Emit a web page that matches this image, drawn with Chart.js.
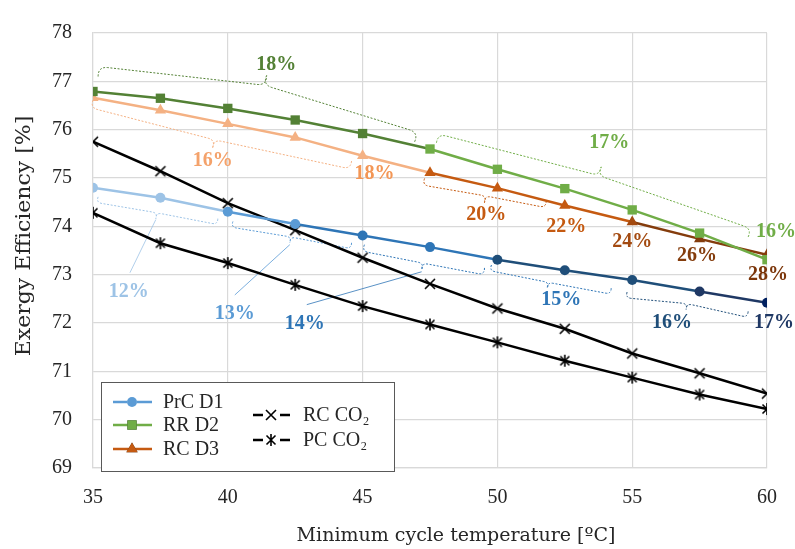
<!DOCTYPE html>
<html>
<head>
<meta charset="utf-8">
<script src="https://cdn.jsdelivr.net/npm/chart.js@4/dist/chart.umd.min.js"></script>
<style>
  html, body { margin: 0; padding: 0; background: #ffffff; }
  #wrap { width: 795px; height: 549px; }
</style>
</head>
<body>
<div id="wrap"><canvas id="chart" width="795" height="549"></canvas></div>
<script>
// Minimum cycle temperature (ºC)
const temps = [35, 37.5, 40, 42.5, 45, 47.5, 50, 52.5, 55, 57.5, 60];

// Exergy efficiency (%) for each cycle
const prcD1 = [74.80, 74.59, 74.30, 74.05, 73.81, 73.57, 73.31, 73.09, 72.89, 72.65, 72.42];
const rrD2  = [76.79, 76.65, 76.44, 76.20, 75.92, 75.60, 75.18, 74.78, 74.34, 73.86, 73.31];
const rcD3  = [76.66, 76.40, 76.12, 75.84, 75.46, 75.11, 74.79, 74.43, 74.09, 73.74, 73.41];
const rcCO2 = [75.75, 75.14, 74.48, 73.92, 73.35, 72.81, 72.30, 71.88, 71.37, 70.96, 70.54];
const pcCO2 = [74.28, 73.65, 73.24, 72.79, 72.35, 71.97, 71.60, 71.22, 70.87, 70.52, 70.22];

const seriesNames = ['PrC D1', 'RR D2', 'RC D3', 'RC CO\u2082', 'PC CO\u2082'];

// Axis ranges and ticks
const xTicks = [35, 40, 45, 50, 55, 60];
const yTicks = [69, 70, 71, 72, 73, 74, 75, 76, 77, 78];

// Percentage notes: text and anchor (temperature, efficiency)
const noteText = ['18%', '17%', '16%', '16%', '18%', '20%', '22%', '24%', '26%', '28%', '12%', '13%', '14%', '15%', '16%', '17%'];
const noteX    = [41.8, 54.15, 60.33, 39.44, 45.44, 49.59, 52.55, 55.0, 57.4, 60.04, 36.33, 40.26, 42.85, 52.37, 56.48, 60.26];
const noteY    = [77.34, 75.73, 73.88, 75.35, 75.08, 74.24, 73.98, 73.67, 73.39, 72.99, 72.65, 72.20, 71.98, 72.48, 72.00, 72.00];

// Braces: start, tip and end (temperature, efficiency)
const braceStart = [[35.19, 77.10], [47.74, 75.73], [35.00, 76.61], [47.30, 74.99], [35.19, 74.61], [40.19, 74.10], [45.07, 73.62], [49.78, 73.20], [54.81, 72.64]];
const braceTip   = [[41.44, 77.12], [53.85, 75.23], [39.44, 75.63], [49.52, 74.49], [37.33, 74.16], [42.30, 73.66], [47.19, 73.10], [51.85, 72.72], [57.00, 72.28]];
const braceEnd   = [[46.93, 75.75], [59.30, 73.78], [44.59, 75.35], [51.81, 74.53], [39.63, 74.16], [44.59, 73.66], [49.52, 73.14], [54.22, 72.72], [59.30, 72.24]];

// Leader lines from brace tips to their notes
const leaderFrom = [[37.33, 74.14], [42.30, 73.62], [47.19, 73.06]];
const leaderTo   = [[36.37, 73.04], [40.26, 72.58], [42.93, 72.38]];

// ---- styling ----
const C = {
  blue1: '#9DC3E6', blue2: '#5B9BD5', blue3: '#2E75B6', blue4: '#1F4E79', blue5: '#1F3864', blue6: '#002060',
  green1: '#538135', green2: '#70AD47',
  orange1: '#F4B183', orange2: '#C55A11', orange3: '#A34A10', orange4: '#843C0C',
  grid: '#D9D9D9', text: '#262626'
};

const bluePts  = [C.blue1, C.blue1, C.blue2, C.blue2, C.blue3, C.blue3, C.blue4, C.blue4, C.blue4, C.blue5, C.blue6];
const blueSeg  = [C.blue1, C.blue1, C.blue2, C.blue3, C.blue3, C.blue3, C.blue4, C.blue4, C.blue4, C.blue5];
const greenPts = [C.green1, C.green1, C.green1, C.green1, C.green1, C.green2, C.green2, C.green2, C.green2, C.green2, C.green2];
const greenSeg = [C.green1, C.green1, C.green1, C.green1, C.green1, C.green2, C.green2, C.green2, C.green2, C.green2];
const orangePts = [C.orange1, C.orange1, C.orange1, C.orange1, C.orange1, C.orange2, C.orange2, C.orange2, C.orange3, C.orange4, C.orange4];
const orangeSeg = [C.orange1, C.orange1, C.orange1, C.orange1, C.orange1, C.orange2, C.orange2, C.orange2, C.orange4, C.orange4];

const noteColors = [C.green1, C.green2, C.green2, '#F4A26B', '#F39655', C.orange2, C.orange2, C.orange3, C.orange4, '#7B3509',
                    C.blue1, C.blue2, C.blue3, C.blue3, C.blue4, C.blue5];
const braceColors = [C.green1, C.green2, C.orange1, C.orange2, C.blue1, C.blue2, C.blue3, C.blue3, C.blue4];
const braceSide = [-1, -1, 1, 1, 1, 1, 1, 1, 1];
const braceDepth = [10, 9, 8, 7, 6, 6, 7, 6, 6];
const leaderColors = [C.blue1, C.blue2, C.blue3];

const SERIF = '"Liberation Serif", "Times New Roman", serif';
const TITLE_FONT = '"DejaVu Serif", serif';

// Marker images for the CO2 series
function markerCanvas(size, draw) {
  const c = document.createElement('canvas');
  c.width = size; c.height = size;
  const g = c.getContext('2d');
  draw(g, size);
  return c;
}
const crossMark = markerCanvas(14, (g, s) => {
  g.strokeStyle = '#000'; g.lineWidth = 1.6; g.lineCap = 'butt';
  g.beginPath();
  g.moveTo(2, 2); g.lineTo(s - 2, s - 2);
  g.moveTo(s - 2, 2); g.lineTo(2, s - 2);
  g.stroke();
});
const starMark = markerCanvas(14, (g, s) => {
  g.strokeStyle = '#000'; g.lineWidth = 1.6;
  g.beginPath();
  g.moveTo(2.5, 2.5); g.lineTo(s - 2.5, s - 2.5);
  g.moveTo(s - 2.5, 2.5); g.lineTo(2.5, s - 2.5);
  g.moveTo(s / 2, 1); g.lineTo(s / 2, s - 1);
  g.stroke();
});

const toXY = arr => arr.map((v, i) => ({ x: temps[i], y: v }));

const datasets = [
  { label: seriesNames[0], data: toXY(prcD1), borderColor: C.blue2, borderWidth: 2.5,
    pointStyle: 'circle', pointRadius: 5, pointBackgroundColor: bluePts, pointBorderColor: bluePts, pointBorderWidth: 0,
    segment: { borderColor: ctx => blueSeg[ctx.p0DataIndex] } },
  { label: seriesNames[1], data: toXY(rrD2), borderColor: C.green2, borderWidth: 2.5,
    pointStyle: 'rect', pointRadius: 6.6, pointBackgroundColor: greenPts, pointBorderColor: greenPts, pointBorderWidth: 0,
    segment: { borderColor: ctx => greenSeg[ctx.p0DataIndex] } },
  { label: seriesNames[2], data: toXY(rcD3), borderColor: C.orange2, borderWidth: 2.5,
    pointStyle: 'triangle', pointRadius: 6.5, pointBackgroundColor: orangePts, pointBorderColor: orangePts, pointBorderWidth: 0,
    segment: { borderColor: ctx => orangeSeg[ctx.p0DataIndex] } },
  { label: seriesNames[3], data: toXY(rcCO2), borderColor: '#000', borderWidth: 2.5,
    pointStyle: crossMark, pointRadius: 7 },
  { label: seriesNames[4], data: toXY(pcCO2), borderColor: '#000', borderWidth: 2.5,
    pointStyle: starMark, pointRadius: 7 }
];

function drawBrace(ctx, A, T, B, side, r) {
  function half(P, Q) {
    const dx = Q.x - P.x, dy = Q.y - P.y;
    const len = Math.hypot(dx, dy);
    let nx = -dy / len, ny = dx / len;
    if (Math.sign(ny) !== side) { nx = -nx; ny = -ny; }
    const sP = { x: P.x + nx * r, y: P.y + ny * r };
    const sQ = { x: Q.x - nx * r, y: Q.y - ny * r };
    const ux = sQ.x - sP.x, uy = sQ.y - sP.y;
    const ul = Math.hypot(ux, uy);
    const ex = ux / ul * r, ey = uy / ul * r;
    ctx.moveTo(P.x, P.y);
    ctx.quadraticCurveTo(sP.x, sP.y, sP.x + ex, sP.y + ey);
    ctx.lineTo(sQ.x - ex, sQ.y - ey);
    ctx.quadraticCurveTo(sQ.x, sQ.y, Q.x, Q.y);
  }
  ctx.beginPath();
  half(A, T);
  half(B, T);
  ctx.stroke();
}

const notesPlugin = {
  id: 'notes',
  beforeDatasetsDraw(chart) {
    const { ctx, scales: { x, y } } = chart;
    const px = p => ({ x: x.getPixelForValue(p[0]), y: y.getPixelForValue(p[1]) });
    ctx.save();
    ctx.lineWidth = 1;
    ctx.setLineDash([2, 1.6]);
    braceStart.forEach((s, i) => {
      ctx.strokeStyle = braceColors[i];
      drawBrace(ctx, px(s), px(braceTip[i]), px(braceEnd[i]), braceSide[i], braceDepth[i]);
    });
    ctx.setLineDash([]);
    ctx.lineWidth = 0.8;
    leaderFrom.forEach((s, i) => {
      const a = px(s), b = px(leaderTo[i]);
      ctx.strokeStyle = leaderColors[i];
      ctx.beginPath(); ctx.moveTo(a.x, a.y); ctx.lineTo(b.x, b.y); ctx.stroke();
    });
    ctx.restore();
  },
  afterDraw(chart) {
    const { ctx, chartArea: ca, scales: { x, y } } = chart;
    ctx.save();
    // percentage notes
    ctx.font = 'bold 20px ' + SERIF;
    ctx.textAlign = 'center';
    ctx.textBaseline = 'middle';
    noteText.forEach((t, i) => {
      ctx.fillStyle = noteColors[i];
      ctx.fillText(t, x.getPixelForValue(noteX[i]), y.getPixelForValue(noteY[i]));
    });

    // axis titles
    ctx.fillStyle = C.text;
    ctx.font = '19px ' + TITLE_FONT;
    ctx.textBaseline = 'middle';
    ctx.textAlign = 'center';
    ctx.fillText('Minimum cycle temperature [\u00BAC]', 456, 536);
    ctx.save();
    ctx.translate(25, 236);
    ctx.rotate(-Math.PI / 2);
    ctx.scale(1.1, 1);
    ctx.font = '20px ' + TITLE_FONT;
    ctx.fillText('Exergy Efficiency [%]', 0, 0);
    ctx.restore();

    // legend
    const L = { x: ca.left + 8, y: ca.top + 349, w: 293, h: 89 };
    ctx.fillStyle = '#ffffff';
    ctx.fillRect(L.x, L.y, L.w, L.h);
    ctx.strokeStyle = '#595959';
    ctx.lineWidth = 1;
    ctx.strokeRect(L.x + 0.5, L.y + 0.5, L.w, L.h);

    const rows = [
      { ds: 0, sx: L.x + 12, cy: L.y + 20 },
      { ds: 1, sx: L.x + 12, cy: L.y + 43 },
      { ds: 2, sx: L.x + 12, cy: L.y + 67 },
      { ds: 3, sx: L.x + 152, cy: L.y + 33 },
      { ds: 4, sx: L.x + 152, cy: L.y + 58 }
    ];
    const legendCol = [C.blue2, C.green2, C.orange2];
    rows.forEach(r => {
      const mid = r.sx + 19;
      ctx.lineWidth = 2.5;
      ctx.beginPath();
      if (r.ds < 3) {
        ctx.strokeStyle = legendCol[r.ds];
        ctx.moveTo(r.sx, r.cy); ctx.lineTo(r.sx + 39, r.cy);
        ctx.stroke();
        const st = datasets[r.ds].pointStyle;
        Chart.helpers.drawPoint(ctx, { pointStyle: st, radius: datasets[r.ds].pointRadius, borderWidth: 0 }, mid, r.cy);
        ctx.fillStyle = legendCol[r.ds];
        ctx.fill();
      } else {
        ctx.strokeStyle = '#000';
        ctx.moveTo(r.sx, r.cy); ctx.lineTo(r.sx + 10, r.cy);
        ctx.moveTo(r.sx + 27, r.cy); ctx.lineTo(r.sx + 37, r.cy);
        ctx.stroke();
        const img = datasets[r.ds].pointStyle;
        ctx.drawImage(img, mid - 1 - img.width / 2, r.cy - img.height / 2);
      }
      ctx.fillStyle = C.text;
      ctx.font = '20px ' + SERIF;
      ctx.textAlign = 'left';
      ctx.textBaseline = 'middle';
      ctx.fillText(seriesNames[r.ds], r.sx + 50, r.cy + 1);
    });
    ctx.restore();
  }
};

new Chart(document.getElementById('chart'), {
  type: 'line',
  data: { datasets },
  options: {
    responsive: false,
    animation: false,
    devicePixelRatio: 1,
    layout: { padding: { top: 20, right: 27, bottom: 0, left: 0 } },
    plugins: { legend: { display: false }, tooltip: { enabled: false } },
    scales: {
      x: {
        type: 'linear', min: xTicks[0], max: xTicks[xTicks.length - 1],
        afterBuildTicks: s => { s.ticks = xTicks.map(v => ({ value: v })); },
        afterFit: s => { s.height = 81; },
        ticks: { color: C.text, font: { family: SERIF, size: 20 }, padding: 18, maxRotation: 0 },
        grid: { color: C.grid, lineWidth: 1.2, drawTicks: false },
        border: { color: C.grid, width: 1.2 }
      },
      y: {
        type: 'linear', min: yTicks[0], max: yTicks[yTicks.length - 1],
        afterBuildTicks: s => { s.ticks = yTicks.map(v => ({ value: v })); },
        afterFit: s => { s.width = 93; },
        ticks: { color: C.text, font: { family: SERIF, size: 20 }, padding: 21 },
        grid: { color: C.grid, lineWidth: 1.2, drawTicks: false },
        border: { color: C.grid, width: 1.2 }
      }
    }
  },
  plugins: [notesPlugin]
});
</script>
</body>
</html>
